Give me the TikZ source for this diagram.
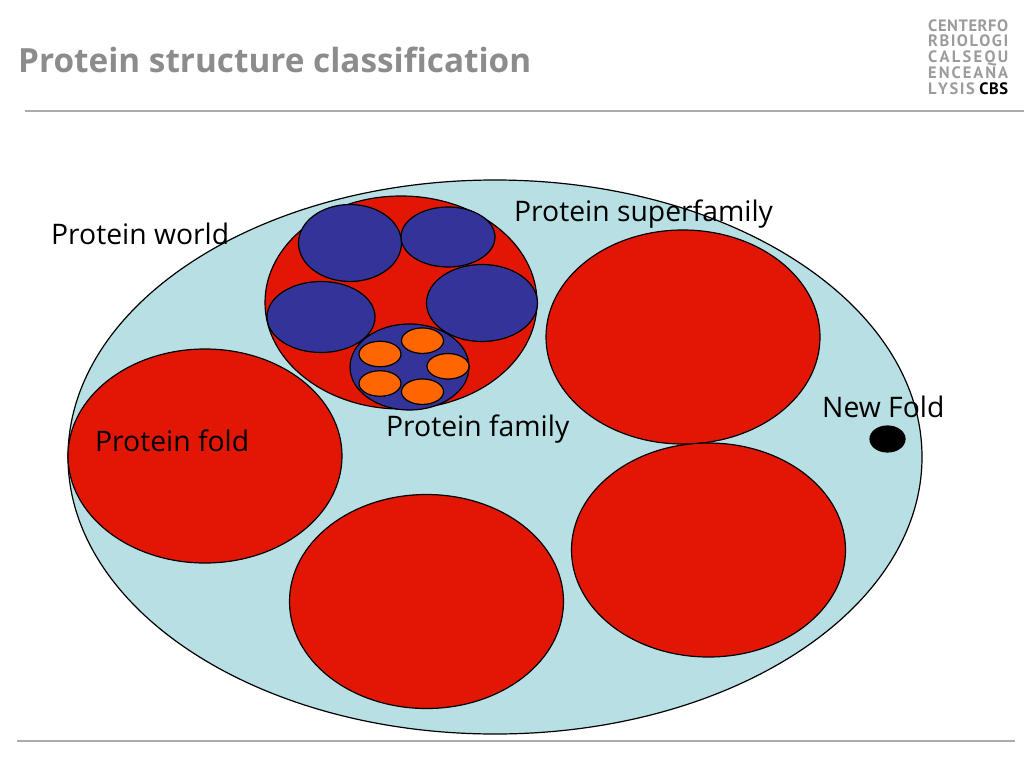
\documentclass[tikz,border=0pt]{standalone}
\usepackage{fontspec}
\setmainfont{Open Sans}
\newfontfamily\logofont{PT Sans}
\definecolor{worldblue}{HTML}{B8DFE3}
\definecolor{foldred}{HTML}{E21605}
\definecolor{famblue}{HTML}{333399}
\definecolor{domorange}{HTML}{FF6600}
\definecolor{titlegray}{HTML}{8C8C8C}
\definecolor{rulegray}{HTML}{ABABAB}
\definecolor{logogray}{HTML}{9C9C9C}
\usetikzlibrary{shapes.geometric}
\tikzset{
  blob/.style={draw=black,line width=1.2pt,ellipse,inner sep=0pt},
  lbl/.style={anchor=base west,inner sep=0pt,font=\fontsize{28.3}{32}\selectfont,text=black},
  logoline/.style={anchor=base west,inner sep=0pt,text=logogray,font=\logofont\bfseries\fontsize{16.5}{15}\selectfont},
}
\newcommand{\blobat}[6]{\node[blob,fill=#1,minimum width=#4pt,minimum height=#5pt] (#6) at (#2pt,-#3pt) {};}
\newcommand{\spreadline}[1]{\hbox to 80pt{#1}}
\begin{document}
\begin{tikzpicture}[x=1pt,y=1pt]
\useasboundingbox (0,-768) rectangle (1024,0);
\node[anchor=base west,inner sep=0pt,text=titlegray,font=\bfseries\fontsize{33.3}{38}\selectfont] (title) at (18,-72.5) {Protein structure classification};
\coordinate (ruleTopA) at (25,-111); \coordinate (ruleTopB) at (1024,-111);
\coordinate (ruleBotA) at (17,-741); \coordinate (ruleBotB) at (1015,-741);
\draw[rulegray,line width=2pt] (ruleTopA) -- (ruleTopB);
\draw[rulegray,line width=2pt] (ruleBotA) -- (ruleBotB);
\node[logoline] (l1) at (928,-32) {\spreadline{C\hfil E\hfil N\hfil T\hfil E\hfil R\hfil F\hfil O}};
\node[logoline] (l2) at (928,-47) {\spreadline{R\hfil B\hfil I\hfil O\hfil L\hfil O\hfil G\hfil I}};
\node[logoline] (l3) at (928,-63) {\spreadline{C\hfil A\hfil L\hfil S\hfil E\hfil Q\hfil U}};
\node[logoline] (l4) at (928,-78) {\spreadline{E\hfil N\hfil C\hfil E\hfil A\hfil N\hfil A}};
\node[logoline] (l5) at (928,-94) {\spreadline{L\hfil Y\hfil S\hfil I\hfil S\hfil\hfil\hfil\textcolor{black}{C\kern0.5pt B\kern0.5pt S}}};
\blobat{worldblue}{495}{457}{854}{554}{world}
\blobat{foldred}{205}{456}{274}{214}{foldA}
\blobat{foldred}{683}{337}{274}{214}{foldB}
\blobat{foldred}{708.5}{550}{274}{214}{foldC}
\blobat{foldred}{426.5}{601.5}{274}{214}{foldD}
\blobat{foldred}{401}{302.5}{272}{213}{foldE}
\blobat{famblue}{350}{243}{103}{77}{famA}
\blobat{famblue}{448}{237}{94}{60}{famB}
\blobat{famblue}{482}{303}{111}{77}{famC}
\blobat{famblue}{321}{317}{108}{71}{famD}
\blobat{famblue}{409.5}{367}{119}{86}{famE}
\blobat{domorange}{380}{354}{42}{25.5}{domA}
\blobat{domorange}{422.5}{340.7}{42}{25.5}{domB}
\blobat{domorange}{448}{366.3}{42}{25.5}{domC}
\blobat{domorange}{380}{383.5}{42}{25.5}{domD}
\blobat{domorange}{422.5}{391.7}{42}{25.5}{domE}
\blobat{black}{887.5}{439}{35}{26}{newfold}
\node[lbl] (t1) at (51,-244) {Protein world};
\node[lbl] (t2) at (514,-221) {Protein superfamily};
\node[lbl] (t3) at (386,-436) {Protein family};
\node[lbl] (t4) at (95,-451) {Protein fold};
\node[lbl] (t5) at (822,-417) {New Fold};
\end{tikzpicture}
\end{document}
